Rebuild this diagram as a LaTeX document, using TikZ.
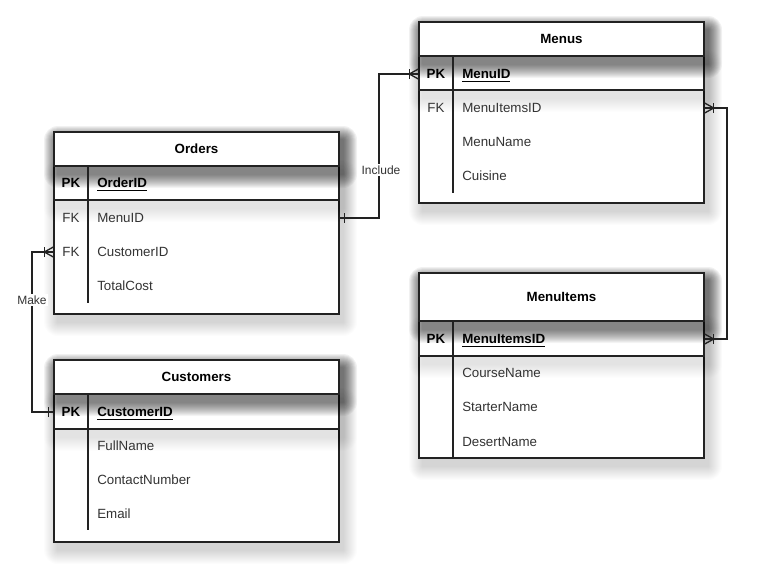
\documentclass[tikz,border=0pt]{standalone}
\usepackage{fontspec}
\setmainfont{Liberation Sans}
\usepackage{tikz}
\usetikzlibrary{fit}

\definecolor{erline}{RGB}{34,34,34}
\definecolor{ertext}{RGB}{51,51,51}

% soft drop shadow under a box given by two corners
\newcommand{\ershadow}[3][0.01]{%
  \foreach \r in {1,...,14} {%
    \fill[black, fill opacity=#1, rounded corners=\r*0.75pt]
      ([shift={(4-\r,8-\r)}]#2) rectangle ([shift={(4+\r,8+\r)}]#3);
  }%
}

\tikzset{
  tbl/.style={draw=erline, line width=1pt, fill=white, inner sep=0pt},
  pkrow/.style={tbl},
  hdr/.style={tbl},
  title/.style={inner sep=0pt, text height=7.2pt, text depth=0pt, font=\bfseries, text=black},
  keycol/.style={inner sep=0pt, text height=7.2pt, text depth=0pt, text=ertext},
  fld/.style={keycol, anchor=west},
  lbl/.style={fill=white, inner sep=1pt, font=\fontsize{9}{10}\selectfont, text=ertext},
  rel/.style={draw=erline, line width=1pt},
  pics/crowfoot/.style={code={
    \draw[rel] (-9,-5) -- (-9,5);
    \draw[rel] (0,-5) -- (-9,0) -- (0,5);
  }},
  pics/onebar/.style={code={\draw[rel] (-5,-5) -- (-5,5);}},
}

\begin{document}
\begin{tikzpicture}[x=0.75pt,y=0.75pt,yscale=-1,xscale=1,font=\fontsize{10}{12}\selectfont]
\useasboundingbox (0,0) rectangle (764,579);

%Shape: Table [id:orders]
\ershadow{54,132}{339,314}
\node[tbl, fit={(54,132) (339,314)}] (orders) {};
\ershadow[0.008]{54,166}{339,200}
\node[pkrow, fit={(54,166) (339,200)}] (ordersPK) {};
\ershadow[0.042]{54,132}{339,166}
\node[hdr, fit={(54,132) (339,166)}] (ordersHead) {};
\draw[rel] (88,166) -- (88,303);
% Text Node
\node[title] (ordersTitle) at (ordersHead) {Orders};
\node[keycol, font=\bfseries, text=black] (oPK) at (71,183) {PK};
\node[fld, font=\bfseries, text=black] (oOrderID) at (97,183) {\underline{OrderID}};
\node[keycol] (oFK1) at (71,218) {FK};
\node[fld] (oMenuID) at (97,218) {MenuID};
\node[keycol] (oFK2) at (71,252) {FK};
\node[fld] (oCustomerID) at (97,252) {CustomerID};
\node[fld] (oTotalCost) at (97,286) {TotalCost};

%Shape: Table [id:menus]
\ershadow{419,22}{704,203}
\node[tbl, fit={(419,22) (704,203)}] (menus) {};
\ershadow[0.008]{419,56}{704,90}
\node[pkrow, fit={(419,56) (704,90)}] (menusPK) {};
\ershadow[0.042]{419,22}{704,56}
\node[hdr, fit={(419,22) (704,56)}] (menusHead) {};
\draw[rel] (453,56) -- (453,193);
% Text Node
\node[title] (menusTitle) at (menusHead) {Menus};
\node[keycol, font=\bfseries, text=black] (mPK) at (436,74) {PK};
\node[fld, font=\bfseries, text=black] (mMenuID) at (462,74) {\underline{MenuID}};
\node[keycol] (mFK) at (436,108) {FK};
\node[fld] (mItemsID) at (462,108) {MenuItemsID};
\node[fld] (mMenuName) at (462,142) {MenuName};
\node[fld] (mCuisine) at (462,176) {Cuisine};

%Shape: Table [id:items]
\ershadow{419,273}{704,458}
\node[tbl, fit={(419,273) (704,458)}] (items) {};
\ershadow[0.008]{419,321}{704,356}
\node[pkrow, fit={(419,321) (704,356)}] (itemsPK) {};
\ershadow[0.042]{419,273}{704,321}
\node[hdr, fit={(419,273) (704,321)}] (itemsHead) {};
\draw[rel] (453,321) -- (453,458);
% Text Node
\node[title] (itemsTitle) at (itemsHead) {MenuItems};
\node[keycol, font=\bfseries, text=black] (iPK) at (436,339) {PK};
\node[fld, font=\bfseries, text=black] (iItemsID) at (462,339) {\underline{MenuItemsID}};
\node[fld] (iCourse) at (462,373) {CourseName};
\node[fld] (iStarter) at (462,407) {StarterName};
\node[fld] (iDesert) at (462,442) {DesertName};

%Shape: Table [id:customers]
\ershadow{54,360}{339,542}
\node[tbl, fit={(54,360) (339,542)}] (customers) {};
\ershadow[0.008]{54,394}{339,429}
\node[pkrow, fit={(54,394) (339,429)}] (customersPK) {};
\ershadow[0.042]{54,360}{339,394}
\node[hdr, fit={(54,360) (339,394)}] (customersHead) {};
\draw[rel] (88,394) -- (88,530);
% Text Node
\node[title] (customersTitle) at (customersHead) {Customers};
\node[keycol, font=\bfseries, text=black] (cPK) at (71,412) {PK};
\node[fld, font=\bfseries, text=black] (cCustomerID) at (97,412) {\underline{CustomerID}};
\node[fld] (cFullName) at (97,446) {FullName};
\node[fld] (cContact) at (97,480) {ContactNumber};
\node[fld] (cEmail) at (97,514) {Email};

%Connector: Include
\coordinate (incX) at (379,0);
\draw[rel] (orders.east |- oMenuID) -- (incX |- oMenuID) -- (incX |- mMenuID) -- (menus.west |- mMenuID);
\pic[rotate=180] at (orders.east |- oMenuID) {onebar};
\pic at (menus.west |- mMenuID) {crowfoot};
\node[lbl] (lInclude) at (381,170) {Include};

%Connector: Menus - MenuItems
\coordinate (itmX) at (727,0);
\draw[rel] (menus.east |- mItemsID) -- (itmX |- mItemsID) -- (itmX |- iItemsID) -- (items.east |- iItemsID);
\pic[rotate=180] at (menus.east |- mItemsID) {crowfoot};
\pic[rotate=180] at (items.east |- iItemsID) {crowfoot};

%Connector: Make
\coordinate (mkX) at (32,0);
\draw[rel] (orders.west |- oCustomerID) -- (mkX |- oCustomerID) -- (mkX |- cCustomerID) -- (customers.west |- cCustomerID);
\pic at (orders.west |- oCustomerID) {crowfoot};
\pic at (customers.west |- cCustomerID) {onebar};
\node[lbl] (lMake) at (32,300) {Make};

\end{tikzpicture}
\end{document}
